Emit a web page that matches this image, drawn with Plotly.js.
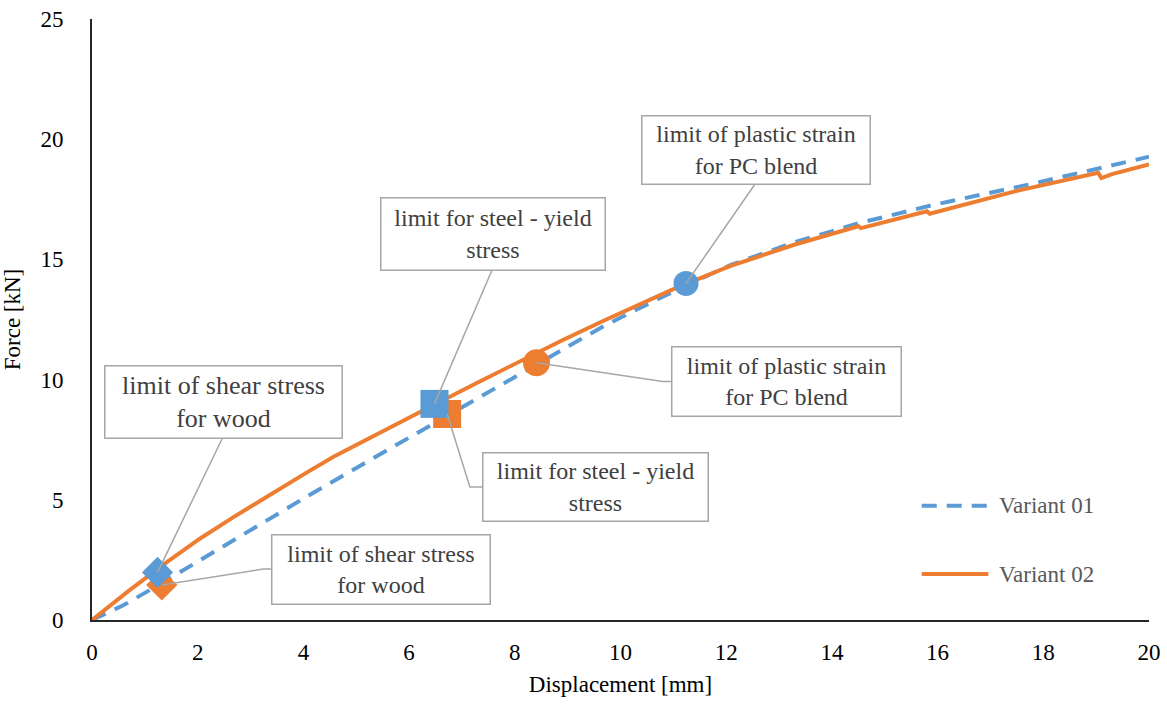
<!DOCTYPE html>
<html>
<head>
<meta charset="utf-8">
<script src="https://cdn.plot.ly/plotly-3.0.1.min.js"></script>
<style>html,body{margin:0;padding:0;background:#fff;}#chart{width:1167px;height:704px;}</style>
</head>
<body>
<div id="chart"></div>
<script>
// Series data
const variant01X = [0, 0.6, 1.2, 2.5, 4.1, 5.6, 6.5, 7.6, 8.6, 9.7, 10.8, 11.3, 12.1, 13.3, 14.5, 15.9, 17.8, 20];
const variant01Y = [0, 0.62, 1.38, 3.1, 5.18, 7.08, 8.22, 9.62, 10.9, 12.25, 13.45, 13.98, 14.78, 15.72, 16.5, 17.26, 18.15, 19.27];
const variant02X = [0, 0.7, 1.41, 2.04, 2.67, 3.49, 4.06, 4.57, 5.32, 6.3, 7.28, 8.16, 8.92, 9.67, 10.43, 11.0, 12.07, 13.3, 14.5, 14.55, 15.8, 15.85, 17.5, 19.04, 19.1, 19.3, 20];
const variant02Y = [0, 1.22, 2.4, 3.38, 4.27, 5.38, 6.13, 6.79, 7.66, 8.76, 9.86, 10.85, 11.66, 12.44, 13.2, 13.76, 14.72, 15.62, 16.38, 16.3, 17.0, 16.9, 17.85, 18.6, 18.38, 18.55, 18.95];

// Limit points (diamond = shear wood, square = steel yield, circle = PC blend)
const limits01X = [1.24, 6.48, 11.24];
const limits01Y = [1.98, 8.99, 14.0];
const limits02X = [1.32, 6.72, 8.41];
const limits02Y = [1.46, 8.57, 10.70];
const limitSymbols = ['diamond', 'square', 'circle'];
const limitSizes01 = [24, 28, 25];
const limitSizes02 = [24, 28, 27];

const limitLabels = ['limit of shear stress<br>for wood', 'limit for steel - yield<br>stress', 'limit of plastic strain<br>for PC blend'];
const seriesNames = ['Variant 01', 'Variant 02'];

const BLUE = '#5B9BD5', ORANGE = '#ED7D31', GRAY = '#A6A6A6', TXT = '#404040';
const FONT = 'Liberation Serif';

const traces = [
  {x: variant01X, y: variant01Y, mode: 'lines', name: seriesNames[0], line: {color: BLUE, width: 4, dash: '15px,10px'}, showlegend: false},
  {x: variant02X, y: variant02Y, mode: 'lines', name: seriesNames[1], line: {color: ORANGE, width: 4}, showlegend: false},
  {x: limits02X, y: limits02Y, mode: 'markers', marker: {color: ORANGE, opacity: 1, symbol: limitSymbols, size: limitSizes02, line: {width: 0}}, showlegend: false, hoverinfo: 'skip'},
  {x: limits01X, y: limits01Y, mode: 'markers', marker: {color: BLUE, opacity: 1, symbol: limitSymbols, size: limitSizes01, line: {width: 0}}, showlegend: false, hoverinfo: 'skip'}
];

// Annotation boxes: [x, y, w, h, fontsize, labelIndex]
const boxes = [
  [2.479, 9.05, 236, 71, 26, 0],
  [5.459, 2.12, 217, 68, 24, 0],
  [7.578, 16.06, 223, 71, 24, 1],
  [9.536, 5.545, 224, 67, 24, 1],
  [13.15, 9.94, 228, 68, 24, 2],
  [12.56, 19.56, 227, 67, 24, 2]
];
const annotations = boxes.map(b => ({
  x: b[0], y: b[1], xref: 'x', yref: 'y', xanchor: 'center', yanchor: 'middle',
  text: limitLabels[b[5]], showarrow: false, width: b[2], height: b[3],
  bgcolor: '#ffffff', bordercolor: GRAY, borderwidth: 1.5, borderpad: 0,
  font: {family: FONT, size: b[4], color: TXT}, align: 'center'
}));

// Leader lines (polyline from marker to box edge)
const leaders = [
  [[limits01X[0], limits01Y[0]], [2.46, 7.53]],
  [[limits02X[0], limits02Y[0]], [3.24, 2.12], [3.41, 2.12]],
  [[limits01X[1], limits01Y[1]], [7.57, 14.56]],
  [[limits02X[1], limits02Y[1]], [7.15, 5.53], [7.42, 5.53]],
  [[limits02X[2], limits02Y[2]], [10.80, 9.92], [10.99, 9.92]],
  [[limits01X[2], limits01Y[2]], [12.56, 18.18]]
];
const shapes = leaders.map(pts => ({
  type: 'path', xref: 'x', yref: 'y', layer: 'above',
  path: pts.map((p, i) => (i ? 'L' : 'M') + p[0] + ',' + p[1]).join(' '),
  line: {color: GRAY, width: 1.5}
}));

// Manual legend (longer line samples like the original)
shapes.push({type: 'line', xref: 'paper', yref: 'paper', x0: 0.785, x1: 0.848, y0: 0.19, y1: 0.19, line: {color: BLUE, width: 4, dash: '15px,10px'}});
shapes.push({type: 'line', xref: 'paper', yref: 'paper', x0: 0.785, x1: 0.848, y0: 0.0765, y1: 0.0765, line: {color: ORANGE, width: 4}});
annotations.push({xref: 'paper', yref: 'paper', x: 0.856, y: 0.19, xanchor: 'left', yanchor: 'middle', showarrow: false, text: seriesNames[0], font: {family: FONT, size: 23, color: '#595959'}});
annotations.push({xref: 'paper', yref: 'paper', x: 0.856, y: 0.0765, xanchor: 'left', yanchor: 'middle', showarrow: false, text: seriesNames[1], font: {family: FONT, size: 23, color: '#595959'}});

const layout = {
  width: 1167, height: 704,
  margin: {l: 92, r: 18, t: 19, b: 84},
  paper_bgcolor: '#fff', plot_bgcolor: '#fff',
  font: {family: FONT, color: '#000'},
  xaxis: {
    range: [0, 20], dtick: 2, showgrid: false, zeroline: false,
    showline: true, linecolor: '#262626', linewidth: 2, ticks: '',
    ticklabelstandoff: 10,
    tickfont: {family: FONT, size: 23, color: '#000'},
    title: {text: 'Displacement [mm]', font: {family: FONT, size: 23, color: '#000'}, standoff: 12}
  },
  yaxis: {
    range: [0, 25], dtick: 5, showgrid: false, zeroline: false,
    showline: true, linecolor: '#262626', linewidth: 2, ticks: '',
    ticklabelstandoff: 22,
    tickfont: {family: FONT, size: 23, color: '#000'},
    title: {text: 'Force [kN]', font: {family: FONT, size: 23, color: '#000'}, standoff: 14}
  },
  showlegend: false,
  annotations: annotations,
  shapes: shapes
};

Plotly.newPlot('chart', traces, layout, {displayModeBar: false, staticPlot: true});
</script>
</body>
</html>
